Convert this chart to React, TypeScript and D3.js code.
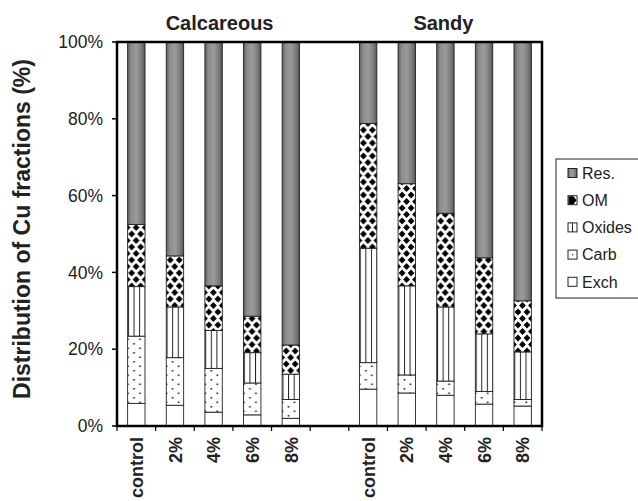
import React from "react";
import * as d3 from "d3";

const categories = ["control", "2%", "4%", "6%", "8%", "", "control ", "2% ", "4% ", "6% ", "8% "];
const groupTitles = ["Calcareous", "Sandy"];
const exch = [5.9, 5.4, 3.6, 2.9, 2.0, 0, 9.6, 8.6, 8.0, 5.7, 5.2];
const carb = [17.5, 12.4, 11.4, 8.3, 4.9, 0, 6.9, 4.7, 3.7, 3.3, 1.7];
const oxides = [12.9, 13.2, 9.9, 7.9, 6.6, 0, 29.8, 23.2, 19.3, 15.0, 12.4];
const om = [16.2, 13.3, 11.6, 9.5, 7.6, 0, 32.5, 26.6, 24.4, 19.8, 13.3];
const res = [47.5, 55.7, 63.5, 71.4, 78.9, 0, 21.2, 36.9, 44.6, 56.2, 67.4];
const seriesKeys = ["Exch", "Carb", "Oxides", "OM", "Res."];
const yTicks = [0, 20, 40, 60, 80, 100];

const W = 638;
const H = 501;
const M = { left: 117, right: 542, top: 42, bottom: 426 };

export default function App() {
  const rows = categories.map((c, i) => ({
    cat: c,
    Exch: exch[i],
    Carb: carb[i],
    Oxides: oxides[i],
    OM: om[i],
    "Res.": res[i],
  }));
  const stack = d3.stack<any>().keys(seriesKeys);
  const stacked = stack(rows);
  const x = d3.scaleBand<string>().domain(categories).range([M.left, M.right]).paddingInner(0).paddingOuter(0);
  const y = d3.scaleLinear().domain([0, 100]).range([M.bottom, M.top]);
  const bw = x.bandwidth() * 0.45;
  const barX = (i: number) => x(categories[i])! + (x.bandwidth() - bw) / 2;
  const fillFor = (key: string, i: number) => {
    if (key === "Exch") return "#ffffff";
    if (key === "Carb") return `url(#pCarb${i})`;
    if (key === "Oxides") return `url(#pOx${i})`;
    if (key === "OM") return `url(#pOM${i})`;
    return "url(#gRes)";
  };
  const legendOrder = ["Res.", "OM", "Oxides", "Carb", "Exch"];
  const font = "'Liberation Sans', Arial, Helvetica, sans-serif";
  const calcMid = (x(categories[0])! + x(categories[4])! + x.bandwidth()) / 2;
  const sandMid = (x(categories[6])! + x(categories[10])! + x.bandwidth()) / 2;

  return (
    <svg width={W} height={H} style={{ position: "absolute", left: 0, top: 0, background: "#fff" }} fontFamily={font}>
      <defs>
        <linearGradient id="gRes" x1="0" x2="1" y1="0" y2="0">
          <stop offset="0" stopColor="#5e5e5e" />
          <stop offset="0.2" stopColor="#8c8c8c" />
          <stop offset="0.5" stopColor="#9a9a9a" />
          <stop offset="0.8" stopColor="#7c7c7c" />
          <stop offset="1" stopColor="#555555" />
        </linearGradient>
        {categories.map((c, i) => (
          <React.Fragment key={"p" + i}>
            <pattern id={`pCarb${i}`} patternUnits="userSpaceOnUse" x={barX(i)} y={0} width="12" height="9">
              <rect width="12" height="9" fill="#fff" />
              <rect x="5.6" y="1" width="1.6" height="1.6" fill="#222" />
              <rect x="-0.4" y="5.5" width="1.6" height="1.6" fill="#222" />
              <rect x="11.6" y="5.5" width="1.6" height="1.6" fill="#222" />
            </pattern>
            <pattern id={`pOx${i}`} patternUnits="userSpaceOnUse" x={barX(i) + 0.3} y={0} width="5.6" height="6">
              <rect width="5.6" height="6" fill="#fff" />
              <rect x="0" y="0" width="1" height="6" fill="#222" />
            </pattern>
            <pattern id={`pOM${i}`} patternUnits="userSpaceOnUse" x={barX(i) + 4} y={0} width="9" height="13">
              <rect width="9" height="13" fill="#fff" />
              <path
                d="M0,-3.6 L3.4,0 L0,3.6 L-3.4,0Z M9,-3.6 L12.4,0 L9,3.6 L5.6,0Z M0,9.4 L3.4,13 L0,16.6 L-3.4,13Z M9,9.4 L12.4,13 L9,16.6 L5.6,13Z M4.5,2.9 L7.9,6.5 L4.5,10.1 L1.1,6.5Z"
                fill="#000"
              />
            </pattern>
          </React.Fragment>
        ))}
      </defs>

      {/* bars */}
      {stacked.map((s) => (
        <g key={s.key}>
          {s.map((d, i) =>
            d[1] - d[0] > 0 ? (
              <rect
                key={i}
                x={barX(i)}
                y={y(d[1])}
                width={bw}
                height={y(d[0]) - y(d[1])}
                fill={fillFor(s.key, i)}
                stroke="#222"
                strokeWidth={0.9}
              />
            ) : null
          )}
        </g>
      ))}

      {/* frame */}
      <rect x={M.left} y={M.top} width={M.right - M.left} height={M.bottom - M.top} fill="none" stroke="#000" strokeWidth={2.5} />

      {/* y axis */}
      {yTicks.map((t) => (
        <g key={t}>
          <line x1={M.left - 5} x2={M.left} y1={y(t)} y2={y(t)} stroke="#000" strokeWidth={1.5} />
          <text x={M.left - 14} y={y(t)} dy="0.35em" textAnchor="end" fontSize={17.5} fill="#222">
            {t}%
          </text>
        </g>
      ))}
      <text
        transform={`translate(30,229) rotate(-90)`}
        textAnchor="middle"
        fontSize={23}
        fontWeight="bold"
        fill="#222"
      >
        Distribution of Cu fractions (%)
      </text>

      {/* x axis ticks */}
      {categories.map((c, i) => (
        <line key={"t" + i} x1={x(c)!} x2={x(c)!} y1={M.bottom} y2={M.bottom + 5} stroke="#000" strokeWidth={1.2} />
      ))}
      <line x1={M.right} x2={M.right} y1={M.bottom} y2={M.bottom + 5} stroke="#000" strokeWidth={1.2} />
      {categories.map((c, i) =>
        c.trim() ? (
          <text
            key={"l" + i}
            transform={`translate(${x(c)! + x.bandwidth() / 2},437) rotate(-90)`}
            textAnchor="end"
            dy="0.37em"
            fontSize={18}
            fontWeight="bold"
            fill="#222"
          >
            {c.trim()}
          </text>
        ) : null
      )}

      {/* group titles */}
      <text x={calcMid + 6} y={30} textAnchor="middle" fontSize={20} fontWeight="bold" fill="#222">
        {groupTitles[0]}
      </text>
      <text x={sandMid - 2} y={30} textAnchor="middle" fontSize={20} fontWeight="bold" fill="#222">
        {groupTitles[1]}
      </text>

      {/* legend */}
      <rect x={556} y={159} width={90} height={139} fill="#fff" stroke="#222" strokeWidth={1} />
      {legendOrder.map((k, i) => {
        const cy = 173 + i * 27.2;
        return (
          <g key={k}>
            <rect x={568} y={cy - 4.5} width={9} height={9} fill={k === "Res." ? "url(#gRes)" : "#fff"} stroke="#222" strokeWidth={1} />
            {k === "OM" && <path d={`M568.5,${cy - 4} L573.5,${cy - 4} L576.5,${cy} L573.5,${cy + 4} L568.5,${cy + 4} Z`} fill="#000" />}
            {k === "Oxides" && <line x1={572.5} x2={572.5} y1={cy - 4.5} y2={cy + 4.5} stroke="#222" strokeWidth={1} />}
            {k === "Carb" && <rect x={572} y={cy - 0.5} width={1.2} height={1.2} fill="#222" />}
            <text x={582} y={cy} dy="0.36em" fontSize={16} fill="#222">
              {k}
            </text>
          </g>
        );
      })}
    </svg>
  );
}
